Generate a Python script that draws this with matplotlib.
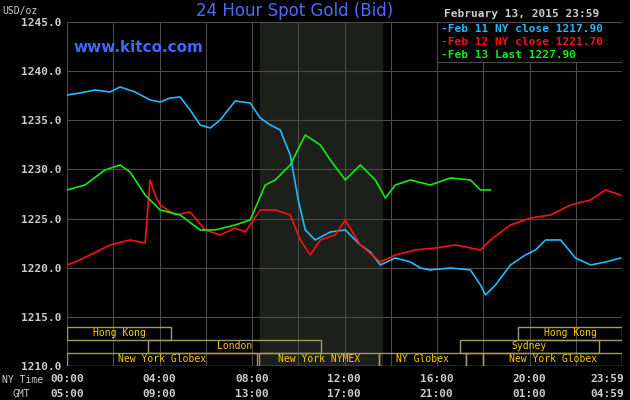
import matplotlib
matplotlib.use("Agg")
import matplotlib.pyplot as plt
from matplotlib.patches import Rectangle

def px2h(x): return (x - 67) / 23.1
def px2v(y): return 1245 - (y - 22) / 9.83

blue_px = [(67,95),(80,93),(95,90),(110,92),(120,87),(135,92),(150,100),(160,102),(170,98),(180,97),(190,110),(200,125),(210,128),(220,120),(235,101),(250,103),(260,118),(270,125),(280,130),(290,155),(298,200),(305,230),(315,240),(330,232),(345,230),(360,245),(370,252),(380,265),(395,258),(410,262),(420,268),(430,270),(450,268),(470,270),(480,285),(485,295),(495,285),(510,265),(525,255),(535,250),(545,240),(560,240),(575,258),(590,265),(605,262),(620,258)]
red_px = [(67,265),(80,260),(90,255),(110,245),(130,240),(145,243),(150,180),(155,195),(160,205),(175,215),(190,212),(205,230),(220,235),(235,228),(245,232),(260,210),(275,210),(290,215),(300,240),(310,255),(320,240),(335,235),(345,220),(360,245),(380,262),(395,255),(415,250),(435,248),(455,245),(480,250),(490,240),(510,225),(530,218),(550,215),(570,205),(590,200),(605,190),(620,195)]
green_px = [(67,190),(85,185),(105,170),(120,165),(130,172),(145,195),(160,210),(180,215),(200,230),(215,230),(235,225),(250,220),(265,185),(275,180),(290,165),(300,145),(305,135),(320,145),(330,160),(345,180),(360,165),(375,180),(385,198),(395,185),(410,180),(430,185),(450,178),(470,180),(480,190),(490,190)]

blue_h = [px2h(x) for x, y in blue_px]; blue_v = [px2v(y) for x, y in blue_px]
red_h = [px2h(x) for x, y in red_px]; red_v = [px2v(y) for x, y in red_px]
green_h = [px2h(x) for x, y in green_px]; green_v = [px2v(y) for x, y in green_px]

yticks = [1210, 1215, 1220, 1225, 1230, 1235, 1240, 1245]
xt_ny = ["00:00", "04:00", "08:00", "12:00", "16:00", "20:00", "23:59"]
xt_gmt = ["05:00", "09:00", "13:00", "17:00", "21:00", "01:00", "04:59"]
sessions = [  # (label, start_h, end_h, row)
    ("Hong Kong", 0, 4.5, 2), ("London", 3.5, 11.0, 1), ("New York Globex", 0, 8.2, 0),
    ("New York NYMEX", 8.3, 13.5, 0), ("NY Globex", 13.5, 17.25, 0), ("", 17.25, 18.0, 0),
    ("New York Globex", 18.0, 24.0, 0), ("Sydney", 17.0, 23.0, 1), ("Hong Kong", 19.5, 24.0, 2)]

mono = "DejaVu Sans Mono"
fig = plt.figure(figsize=(6.3, 4.0), dpi=100, facecolor="black")
ax = fig.add_axes([67/630, 34/400, 555/630, 344/400], facecolor="black")
ax.set_xlim(0, 24); ax.set_ylim(1210, 1245)
ax.axvspan(8.33, 13.6, color="#1c1f1a", zorder=0)
for h in range(0, 25, 2):
    ax.axvline(h, color="#4a4a4a", lw=0.8, zorder=1)
for v in yticks:
    ax.axhline(v, color="#4a4a4a", lw=0.8, zorder=1)
for s in ax.spines.values(): s.set_visible(False)
ax.set_xticks([]); ax.set_yticks(yticks)
ax.set_yticklabels([f"{v:.1f}" for v in yticks], color="#cccccc", fontfamily=mono, fontsize=8, fontweight="bold")
ax.tick_params(axis="y", length=0, pad=4)

ax.plot(blue_h, blue_v, color="#22bbff", lw=1.2, zorder=3)
ax.plot(red_h, red_v, color="#ff1010", lw=1.2, zorder=3)
ax.plot(green_h, green_v, color="#10ee10", lw=1.2, zorder=3)

rh = 4.0 / 3
for lab, a, b, r in sessions:
    y0 = 1210 + r * rh
    ax.add_patch(Rectangle((a, y0), b - a, rh, fill=False, ec="#a09a60", lw=1, zorder=4))
    if lab:
        ax.text((a + b) / 2, y0 + rh / 2, lab, color="#ffcc00", fontfamily=mono, fontsize=7,
                ha="center", va="center", zorder=5)

# legend box
lx0 = px2h(437)
ax.add_patch(Rectangle((lx0, px2v(62)), 24 - lx0, px2v(22) - px2v(62), fc="black", ec="#4a4a4a", lw=0.8, zorder=6))
for i, (t, c) in enumerate([("-Feb 11 NY close 1217.90", "#22bbff"), ("-Feb 12 NY close 1221.70", "#ff1010"), ("-Feb 13 Last 1227.90", "#10ee10")]):
    ax.text(px2h(441), px2v(29 + 13 * i), t, color=c, fontfamily=mono, fontsize=8, fontweight="bold", va="center", zorder=7)

fig.text(73/630, 1 - 48/400, "www.kitco.com", color="#4466ff", fontsize=11, fontweight="bold", va="center")
fig.text(295/630, 1 - 11/400, "24 Hour Spot Gold (Bid)", color="#4a6cff", fontsize=12, ha="center", va="center")
fig.text(522/630, 1 - 14/400, "February 13, 2015 23:59", color="#cccccc", fontfamily=mono, fontsize=8, fontweight="bold", ha="center", va="center")
fig.text(2/630, 1 - 11/400, "USD/oz", color="#cccccc", fontfamily=mono, fontsize=7, va="center")
fig.text(2/630, 1 - 380/400, "NY Time", color="#cccccc", fontfamily=mono, fontsize=7, va="center")
fig.text(12/630, 1 - 394/400, "GMT", color="#cccccc", fontfamily=mono, fontsize=7, va="center")
xpos = [0, 4, 8, 12, 16, 20, 24]
for h, a, b in zip(xpos, xt_ny, xt_gmt):
    xf = (67 + 23.1 * h) / 630 - (0.022 if h == 24 else 0)
    fig.text(xf, 1 - 379/400, a, color="#cccccc", fontfamily=mono, fontsize=8, fontweight="bold", ha="center", va="center")
    fig.text(xf, 1 - 394/400, b, color="#cccccc", fontfamily=mono, fontsize=8, fontweight="bold", ha="center", va="center")

fig.savefig("out.png", dpi=100, facecolor="black")
